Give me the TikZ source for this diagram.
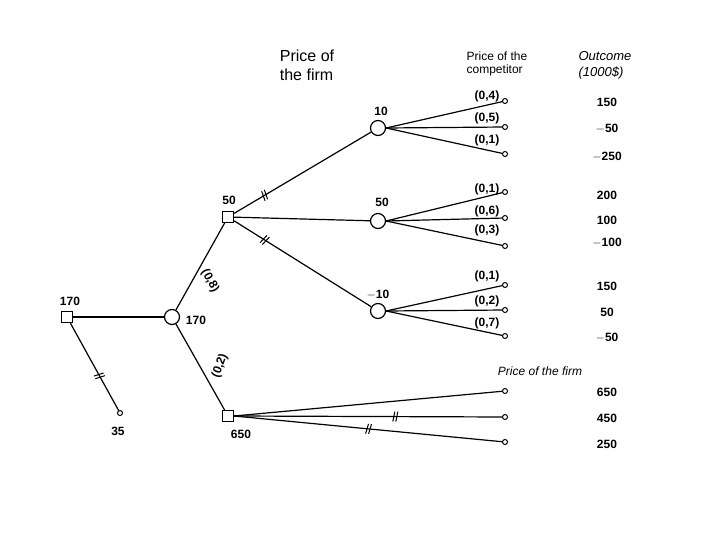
\documentclass[tikz,border=0pt]{standalone}
\usepackage{fontspec}
\setmainfont{Liberation Sans}
\usetikzlibrary{decorations.markings}
\begin{document}
\begin{tikzpicture}[x=1pt,y=-1pt,
  dec/.style={draw,line width=1.2pt,fill=white,minimum size=11pt,inner sep=0pt},
  chn/.style={draw,line width=1.2pt,circle,fill=white,minimum width=13pt,minimum height=15pt,inner sep=0pt},
  term/.style={draw,line width=1pt,circle,fill=white,minimum size=5pt,inner sep=0pt},
  br/.style={line width=1.2pt},
  lab/.style={font=\fontsize{12}{14}\selectfont\bfseries},
  hash/.style={postaction={decorate,decoration={markings,mark=at position #1 with {
     \draw[line width=1pt] (-2pt,-5pt)--(0pt,5pt); \draw[line width=1pt] (1pt,-5pt)--(3pt,5pt);}}}}]
\useasboundingbox (0,0) rectangle (720,540);
% terminals
\node[term] (t1) at (505,101) {}; \node[term] (t2) at (505,127) {}; \node[term] (t3) at (505,154) {};
\node[term] (t4) at (505,192) {}; \node[term] (t5) at (505,218) {}; \node[term] (t6) at (505,246) {};
\node[term] (t7) at (505,285) {}; \node[term] (t8) at (505,310) {}; \node[term] (t9) at (505,336) {};
\node[term] (t10) at (505,391) {}; \node[term] (t11) at (505,417) {}; \node[term] (t12) at (505,442) {};
\node[term] (t0) at (120,413) {};
% decision/chance
\node[dec] (r) at (67,317) {};
\node[chn] (c0) at (172,317) {};
\node[dec] (d1) at (228,217) {};
\node[dec] (d2) at (228,416) {};
\node[chn] (ca) at (378,128) {};
\node[chn] (cb) at (378,221) {};
\node[chn] (cc) at (378,311) {};
% edges
\draw[br] (r)--(c0);
\draw[br,hash=0.6] (r)--(t0);
\draw[br] (c0)--(d1);
\draw[br] (c0)--(d2);
\draw[br,hash=0.22] (d1)--(ca);
\draw[br] (d1)--(cb);
\draw[br,hash=0.22] (d1)--(cc);
\foreach \c/\a/\b/\d in {ca/t1/t2/t3,cb/t4/t5/t6,cc/t7/t8/t9}{
  \draw[br] (\c.east)--(\a); \draw[br] (\c.east)--(\b); \draw[br] (\c.east)--(\d);}
\draw[br] (d2.east)--(t10);
\draw[br,hash=0.6] (d2.east)--(t11);
\draw[br,hash=0.5] (d2.east)--(t12);
% labels
\node[lab] (l0) at (70,301) {170};
\node[lab] (l1) at (196,320) {170};
\node[lab] (l2) at (118,431) {35};
\node[lab] (l3) at (229,200) {50};
\node[lab] (l4) at (241,434) {650};
\node[lab,rotate=-62] (l5) at (210,281) {(0,8)};
\node[lab,rotate=70] (l6) at (220,366) {(0,2)};
\node[lab] (l7) at (381,111) {10};
\node[lab] (l8) at (382,202) {50};
\node[lab] (l9) at (378,295) {$-$10};
\foreach \y/\t in {96/{(0,4)},118/{(0,5)},140/{(0,1)},189/{(0,1)},211/{(0,6)},230/{(0,3)},276/{(0,1)},301/{(0,2)},323/{(0,7)}}
  \node[lab] at (487,\y) {\t};
\foreach \y/\t in {102/150,129/$-$50,157/$-$250,195/200,220/100,243/$-$100,286/150,312/50,338/$-$50,392/650,418/450,444/250}
  \node[lab] at (607,\y) {\t};
\node[align=left,font=\fontsize{16}{19}\selectfont] (h1) at (307,65) {Price of\\the firm};
\node[align=left,font=\fontsize{12}{13}\selectfont] (h2) at (497,64) {Price of the\\competitor};
\node[align=left,font=\fontsize{13}{16}\selectfont\itshape] (h3) at (605,65) {Outcome\\(1000\$)};
\node[font=\fontsize{12}{14}\selectfont\itshape] (h4) at (540,371) {Price of the firm};
\end{tikzpicture}
\end{document}
